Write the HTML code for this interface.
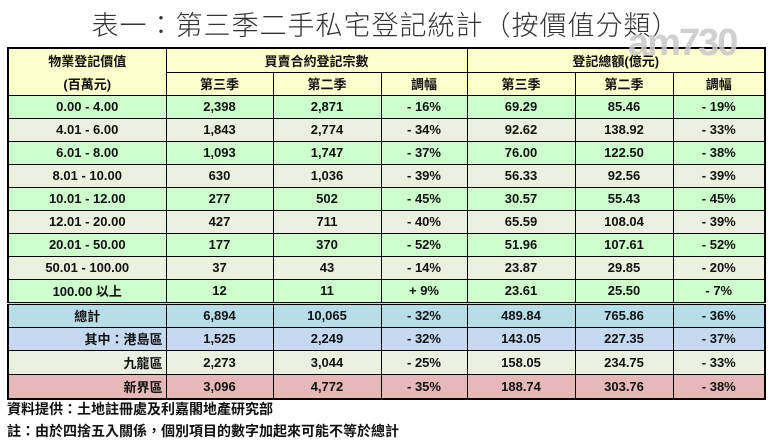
<!DOCTYPE html>
<html><head><meta charset="utf-8"><style>
body{margin:0;width:771px;height:443px;background:#fff;overflow:hidden;font-family:"Liberation Sans","Noto Sans CJK TC",sans-serif;}
.title{position:absolute;left:0;width:771px;top:4px;text-align:center;font-size:27px;font-weight:300;font-family:"Liberation Sans","Noto Sans CJK TC",sans-serif;color:#333;letter-spacing:1px;}
table{position:absolute;left:7px;top:47px;width:757px;border-collapse:collapse;table-layout:fixed;font-size:13px;color:#111;font-weight:bold;border:2px solid #000;}
td{border:1px solid #000;text-align:center;padding:0;height:22px;}
.h td{background:#ffffcc;font-weight:bold;}
.g td{background:#ccffcc}
.b td{background:#ebf1de}
.t td{background:#b7dde8}
.hk td{background:#c5d9f1}
.kl td{background:#ebf1de}
.nt td{background:#e6b9b8}
.dbl td{border-top:3px double #000}
td.r{text-align:right;padding-right:3px}
.foot{position:absolute;left:7px;font-size:14px;font-weight:bold;color:#111}
.wm{position:absolute;left:628px;top:22px;font-size:38px;font-weight:bold;color:rgba(200,200,200,0.85);font-family:"Liberation Sans",sans-serif;letter-spacing:-2px}
</style></head><body>
<div class="title">表一：第三季二手私宅登記統計（按價值分類）</div>
<table>
<colgroup><col style="width:158px"><col style="width:107px"><col style="width:108px"><col style="width:86px"><col style="width:108px"><col style="width:98px"><col style="width:92px"></colgroup>
<tr class="h"><td style="height:23px;border-bottom:none">物業登記價值</td><td colspan="3">買賣合約登記宗數</td><td colspan="3">登記總額(億元)</td></tr>
<tr class="h"><td style="border-top:none">(百萬元)</td><td>第三季</td><td>第二季</td><td>調幅</td><td>第三季</td><td>第二季</td><td>調幅</td></tr>
<tr class="g"><td>0.00 - 4.00</td><td>2,398</td><td>2,871</td><td>- 16%</td><td>69.29</td><td>85.46</td><td>- 19%</td></tr>
<tr class="b"><td>4.01 - 6.00</td><td>1,843</td><td>2,774</td><td>- 34%</td><td>92.62</td><td>138.92</td><td>- 33%</td></tr>
<tr class="g"><td>6.01 - 8.00</td><td>1,093</td><td>1,747</td><td>- 37%</td><td>76.00</td><td>122.50</td><td>- 38%</td></tr>
<tr class="b"><td>8.01 - 10.00</td><td>630</td><td>1,036</td><td>- 39%</td><td>56.33</td><td>92.56</td><td>- 39%</td></tr>
<tr class="g"><td>10.01 - 12.00</td><td>277</td><td>502</td><td>- 45%</td><td>30.57</td><td>55.43</td><td>- 45%</td></tr>
<tr class="b"><td>12.01 - 20.00</td><td>427</td><td>711</td><td>- 40%</td><td>65.59</td><td>108.04</td><td>- 39%</td></tr>
<tr class="g"><td>20.01 - 50.00</td><td>177</td><td>370</td><td>- 52%</td><td>51.96</td><td>107.61</td><td>- 52%</td></tr>
<tr class="b"><td>50.01 - 100.00</td><td>37</td><td>43</td><td>- 14%</td><td>23.87</td><td>29.85</td><td>- 20%</td></tr>
<tr class="g"><td>100.00 以上</td><td>12</td><td>11</td><td>+ 9%</td><td>23.61</td><td>25.50</td><td>- 7%</td></tr>
<tr class="t dbl"><td>總計</td><td>6,894</td><td>10,065</td><td>- 32%</td><td>489.84</td><td>765.86</td><td>- 36%</td></tr>
<tr class="hk"><td class="r">其中：港島區</td><td>1,525</td><td>2,249</td><td>- 32%</td><td>143.05</td><td>227.35</td><td>- 37%</td></tr>
<tr class="kl"><td class="r" style="height:23px">九龍區</td><td>2,273</td><td>3,044</td><td>- 25%</td><td>158.05</td><td>234.75</td><td>- 33%</td></tr>
<tr class="nt"><td class="r" style="height:23px">新界區</td><td>3,096</td><td>4,772</td><td>- 35%</td><td>188.74</td><td>303.76</td><td>- 38%</td></tr>
</table>
<div class="wm">am730</div>
<div class="foot" style="top:399px">資料提供：土地註冊處及利嘉閣地產研究部</div>
<div class="foot" style="top:421px">註：由於四捨五入關係，個別項目的數字加起來可能不等於總計</div>
</body></html>
